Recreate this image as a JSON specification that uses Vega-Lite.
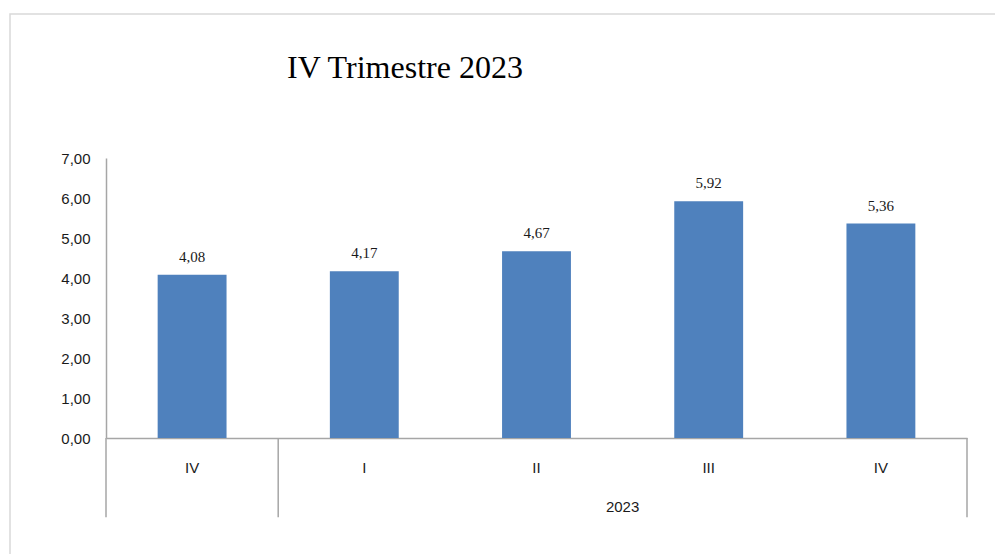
{
  "$schema": "https://vega.github.io/schema/vega-lite/v6.json",
  "autosize": "none",
  "width": 986,
  "height": 541,
  "padding": {"left": 10, "top": 14, "right": 0, "bottom": 0},
  "background": "white",
  "config": {
    "view": {"stroke": "#d9d9d9", "strokeWidth": 1.5},
    "locale": {"number": {"decimal": ",", "thousands": ".", "grouping": [3], "currency": ["", " €"]}}
  },
  "title": {
    "text": "IV Trimestre 2023",
    "font": "Liberation Serif",
    "fontSize": 32,
    "fontWeight": "normal",
    "color": "#000000",
    "anchor": "start",
    "frame": "group",
    "orient": "top",
    "baseline": "alphabetic",
    "offset": 0,
    "dx": 277,
    "dy": 96
  },
  "data": {
    "values": [
      {"cat": "2022 IV", "value": 4.08},
      {"cat": "2023 I", "value": 4.17},
      {"cat": "2023 II", "value": 4.67},
      {"cat": "2023 III", "value": 5.92},
      {"cat": "2023 IV", "value": 5.36}
    ]
  },
  "encoding": {
    "x": {
      "field": "cat",
      "type": "nominal",
      "sort": null,
      "scale": {"type": "band", "range": [96, 957], "paddingInner": 0.6, "paddingOuter": 0.3},
      "axis": {
        "orient": "bottom",
        "offset": -117,
        "title": null,
        "ticks": false,
        "grid": false,
        "domainColor": "#a6a6a6",
        "domainWidth": 1.5,
        "labelAngle": 0,
        "labelPadding": 22,
        "labelFont": "Liberation Sans",
        "labelFontSize": 15,
        "labelColor": "#1a1a1a",
        "labelExpr": "split(datum.value, ' ')[1]"
      }
    }
  },
  "layer": [
    {
      "mark": {"type": "bar", "color": "#4f81bd"},
      "encoding": {
        "y": {
          "field": "value",
          "type": "quantitative",
          "scale": {"domain": [0, 7], "range": [424, 144], "nice": false},
          "axis": {
            "orient": "left",
            "offset": -96,
            "title": null,
            "values": [0, 1, 2, 3, 4, 5, 6, 7],
            "format": ".2f",
            "ticks": false,
            "grid": false,
            "domainColor": "#a6a6a6",
            "domainWidth": 1.5,
            "labelPadding": 16,
            "labelFont": "Liberation Sans",
            "labelFontSize": 15,
            "labelColor": "#1a1a1a"
          }
        }
      }
    },
    {
      "mark": {"type": "text", "font": "Liberation Serif", "fontSize": 15, "color": "#1a1a1a", "baseline": "alphabetic", "dy": -13},
      "encoding": {
        "y": {"field": "value", "type": "quantitative"},
        "text": {"field": "value", "type": "quantitative", "format": ".2f"}
      }
    },
    {
      "data": {"values": [{"cat": "2022 IV"}, {"cat": "2023 I"}]},
      "mark": {"type": "rule", "color": "#a6a6a6", "strokeWidth": 1.5},
      "encoding": {
        "x": {"field": "cat", "type": "nominal", "sort": null, "bandPosition": -0.75},
        "y": {"datum": 0},
        "y2": {"datum": -1.98}
      }
    },
    {
      "data": {"values": [{"cat": "2023 IV"}]},
      "mark": {"type": "rule", "color": "#a6a6a6", "strokeWidth": 1.5},
      "encoding": {
        "x": {"field": "cat", "type": "nominal", "sort": null, "bandPosition": 1.75},
        "y": {"datum": 0},
        "y2": {"datum": -1.98}
      }
    },
    {
      "data": {"values": [{"cat": "2023 III", "year": "2023"}]},
      "mark": {"type": "text", "font": "Liberation Sans", "fontSize": 15, "color": "#1a1a1a", "baseline": "middle", "align": "center"},
      "encoding": {
        "x": {"field": "cat", "type": "nominal", "sort": null, "bandPosition": -0.75},
        "y": {"datum": -1.72},
        "text": {"field": "year"}
      }
    }
  ]
}
